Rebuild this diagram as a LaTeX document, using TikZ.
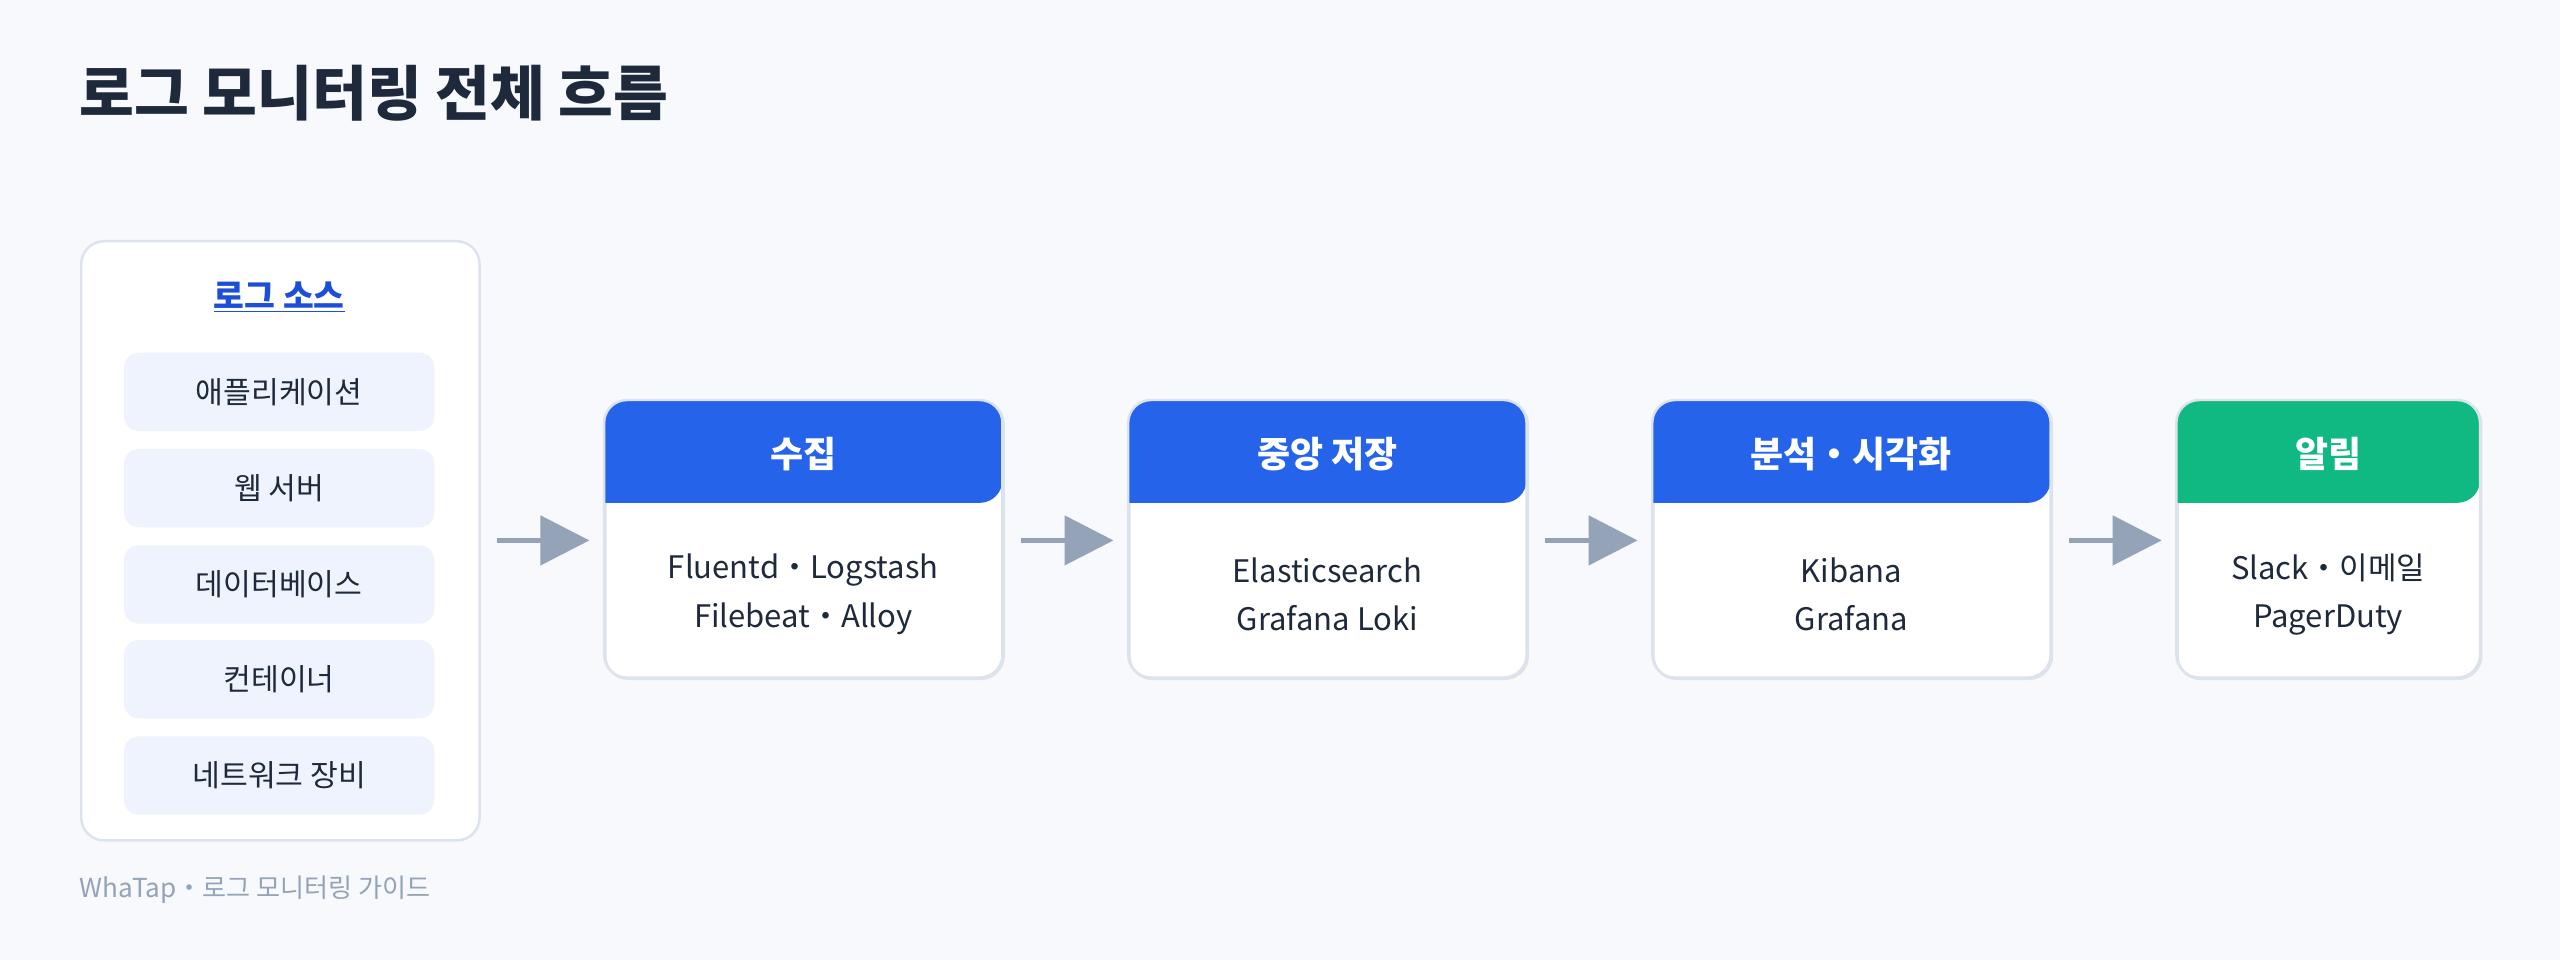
\documentclass[tikz,border=0pt]{standalone}
\usepackage{fontspec}
\setmainfont{Noto Sans CJK KR}
\usetikzlibrary{arrows.meta}
\definecolor{bg}{HTML}{F7F9FC}
\definecolor{ink}{HTML}{1E293B}
\definecolor{bord}{HTML}{DDE3EC}
\definecolor{pill}{HTML}{EEF3FE}
\definecolor{hblue}{HTML}{2563EB}
\definecolor{hgreen}{HTML}{10B981}
\definecolor{lblue}{HTML}{1D4ED8}
\definecolor{arr}{HTML}{94A3B8}
\begin{document}
\begin{tikzpicture}[x=1pt,y=-1pt,
  card/.style={draw=bord,line width=1.5pt,fill=white,rounded corners=14pt,minimum width=#1,minimum height=170pt,inner sep=0pt,anchor=north west},
  pillbox/.style={fill=pill,rounded corners=9pt,minimum width=190pt,minimum height=48pt,inner sep=0pt,font=\fontsize{18.5}{20}\selectfont,text=ink},
  head/.style={font=\bfseries\fontsize{22}{24}\selectfont,text=white},
  bodytext/.style={font=\fontsize{19}{29.5}\selectfont,text=ink,align=center},
  flow/.style={draw=arr,line width=3pt,-{Triangle[length=30pt,width=30pt]},shorten <=10pt,shorten >=9pt}]
\fill[bg] (0,0) rectangle (1568,588);
\useasboundingbox (0,0) rectangle (1568,588);
\node[anchor=west,font=\bfseries\fontsize{36.5}{42}\selectfont,text=ink] (title) at (45,57) {로그 모니터링 전체 흐름};
% source box
\node[draw=bord,line width=1.5pt,fill=white,rounded corners=14pt,minimum width=244pt,minimum height=367pt,inner sep=0pt,anchor=north west] (src) at (49,147) {};
\node[font=\bfseries\fontsize{20.5}{22}\selectfont,text=lblue] (srct) at (171,182) {\underline{로그 소스}};
\node[pillbox] (p1) at (171,240) {애플리케이션};
\node[pillbox] (p2) at (171,299) {웹 서버};
\node[pillbox] (p3) at (171,358) {데이터베이스};
\node[pillbox] (p4) at (171,416) {컨테이너};
\node[pillbox] (p5) at (171,475) {네트워크 장비};
% stages
\foreach \nm/\x/\w/\c/\h/\b in {s1/370/244/hblue/수집/{Fluentd・Logstash\\Filebeat・Alloy},
  s2/691/244/hblue/중앙 저장/{Elasticsearch\\Grafana Loki},
  s3/1012/244/hblue/분석・시각화/{Kibana\\Grafana},
  s4/1333/186/hgreen/알림/{Slack・이메일\\PagerDuty}}{
  \node[card=\w pt] (\nm) at (\x,245) {};
  \fill[\c,rounded corners=14pt] (\x,308) -- (\x,245) -- (\x+\w,245) -- (\x+\w,308) [sharp corners] -- cycle;
  \draw[bord,line width=1.5pt,rounded corners=14pt] (\x,245) rectangle (\x+\w,415);
  \node[head] (\nm h) at (\x+\w/2,278) {\h};
  \node[bodytext] (\nm b) at (\x+\w/2,364) {\b};
}
\draw[flow] (src.east |- 0,331) -- (s1.west |- 0,331);
\draw[flow] (s1.east |- 0,331) -- (s2.west |- 0,331);
\draw[flow] (s2.east |- 0,331) -- (s3.west |- 0,331);
\draw[flow] (s3.east |- 0,331) -- (s4.west |- 0,331);
\node[anchor=west,font=\fontsize{16}{18}\selectfont,text=arr] (foot) at (45,545) {WhaTap・로그 모니터링 가이드};
\end{tikzpicture}
\end{document}
